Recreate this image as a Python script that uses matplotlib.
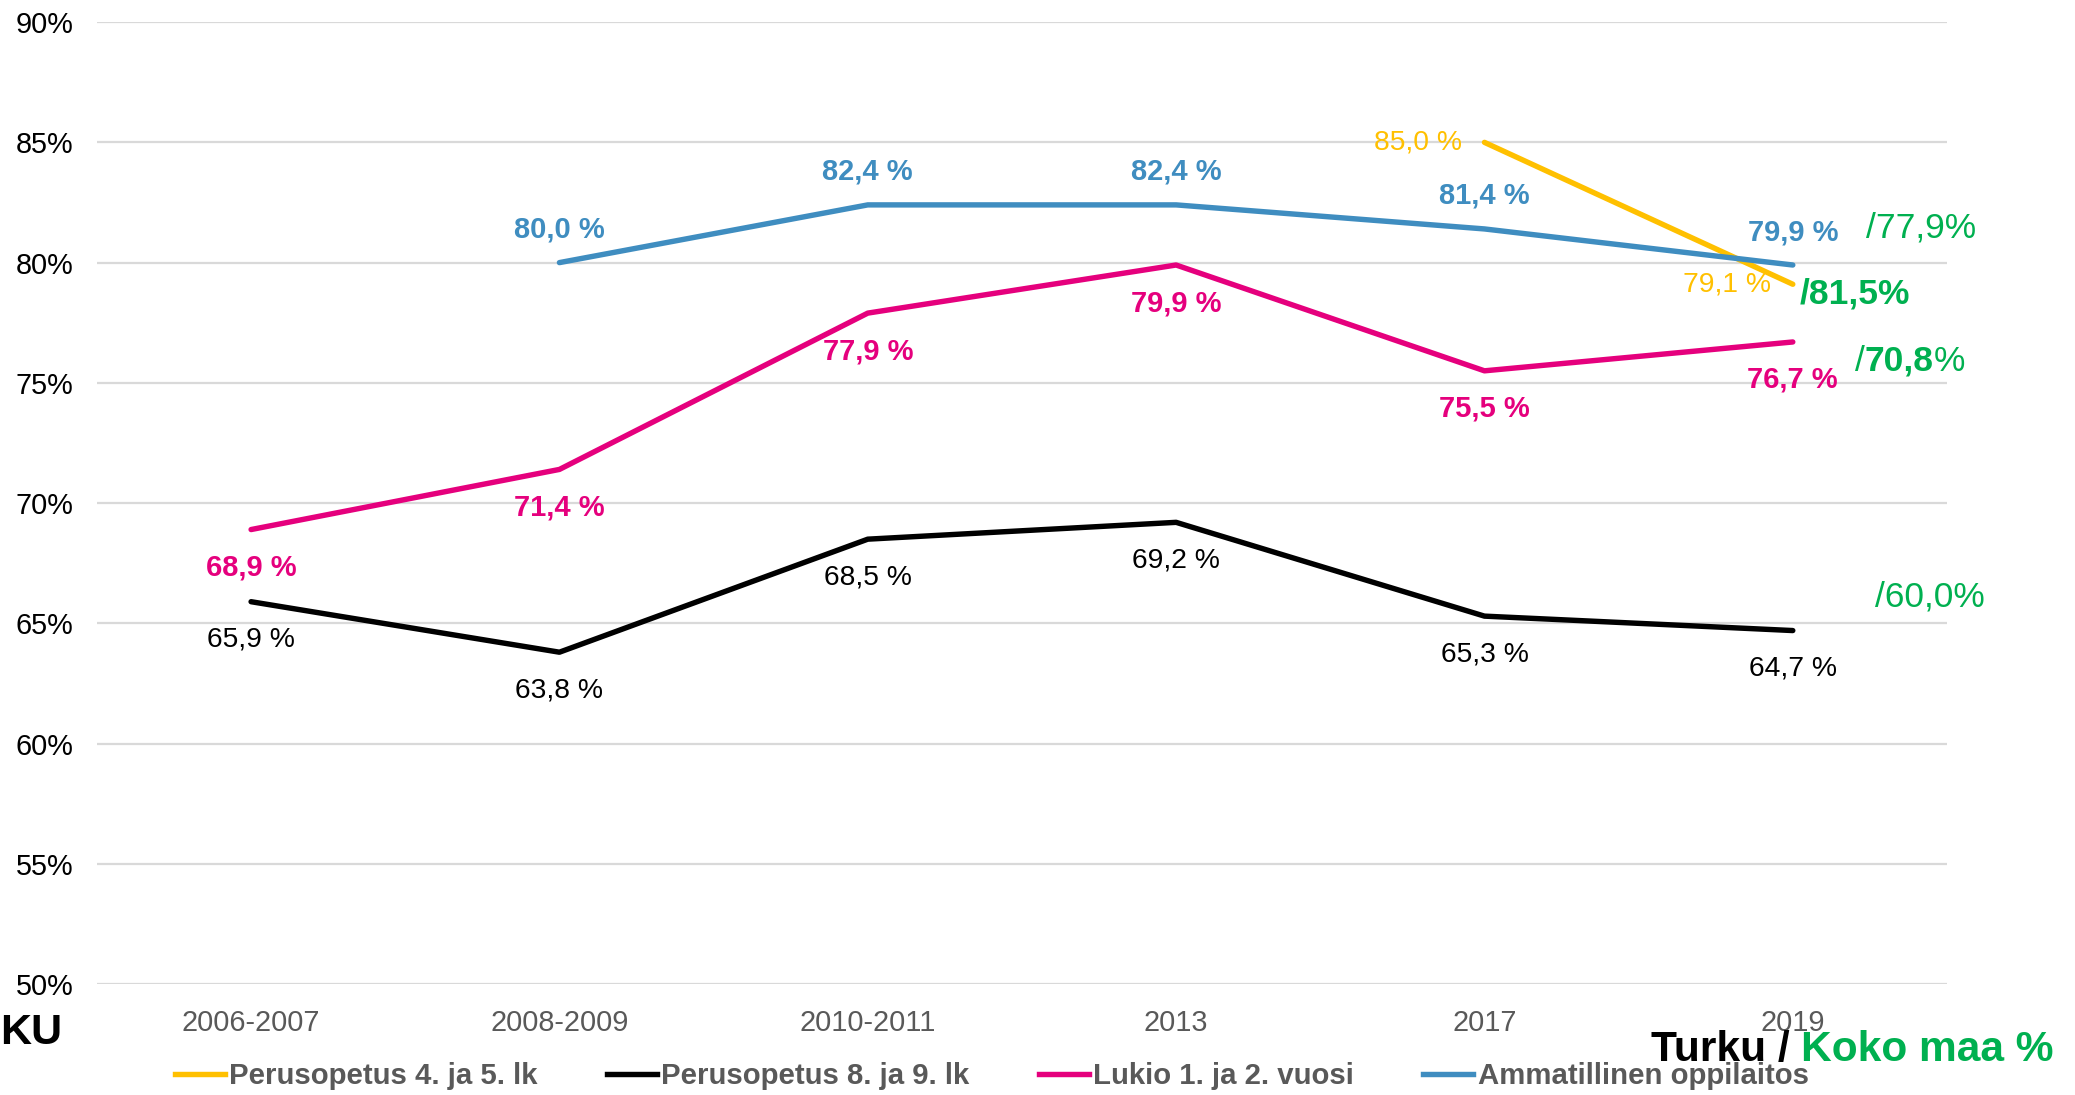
import numpy as np
import matplotlib
matplotlib.use("Agg")
import matplotlib.pyplot as plt
from matplotlib.lines import Line2D

plt.rcParams['font.family'] = ['Liberation Sans', 'DejaVu Sans']

# Data
years = ["2006-2007", "2008-2009", "2010-2011", "2013", "2017", "2019"]
perus_4_5 = [np.nan, np.nan, np.nan, np.nan, 85.0, 79.1]
perus_8_9 = [65.9, 63.8, 68.5, 69.2, 65.3, 64.7]
lukio = [68.9, 71.4, 77.9, 79.9, 75.5, 76.7]
ammatillinen = [np.nan, 80.0, 82.4, 82.4, 81.4, 79.9]
series_names = ["Perusopetus 4. ja 5. lk", "Perusopetus 8. ja 9. lk",
                "Lukio 1. ja 2. vuosi", "Ammatillinen oppilaitos"]
koko_maa = ["77,9", "81,5", "70,8", "60,0"]
y_ticks = [50, 55, 60, 65, 70, 75, 80, 85, 90]

YELLOW = "#FFC000"
BLACK = "#000000"
PINK = "#E5007D"
BLUE = "#3F8DC0"
GREEN = "#00B050"
GRAY = "#595959"


def fmt(v):
    return f"{v:.1f}".replace(".", ",") + " %"


fig = plt.figure(figsize=(20.75, 10.95), dpi=100)
ax = fig.add_axes([0.0467, 0.1013, 0.8916, 0.8785])

x = np.arange(len(years))
lw = 3.9
ax.plot(x, perus_4_5, color=YELLOW, lw=lw, solid_capstyle='round')
ax.plot(x, perus_8_9, color=BLACK, lw=lw, solid_capstyle='round')
ax.plot(x, lukio, color=PINK, lw=lw, solid_capstyle='round')
ax.plot(x, ammatillinen, color=BLUE, lw=lw, solid_capstyle='round')

ax.set_xlim(-0.5, 5.5)
ax.set_ylim(50, 90)
ax.set_yticks(y_ticks)
ax.set_yticklabels([f"{t}%" for t in y_ticks])
ax.set_xticks(x)
ax.set_xticklabels(years, color=GRAY)
ax.tick_params(axis='both', length=0, labelsize=20.8)
ax.tick_params(axis='y', pad=17)
ax.tick_params(axis='x', pad=18)
ax.grid(axis='y', color="#D9D9D9", lw=1.6)
ax.set_axisbelow(True)
for s in ax.spines.values():
    s.set_visible(False)

# data labels
for xi, v in zip(x, perus_8_9):
    ax.annotate(fmt(v), (xi, v), xytext=(0, -38), textcoords='offset pixels',
                ha='center', va='center', fontsize=20.3, color=BLACK)
for xi, v in zip(x, lukio):
    ax.annotate(fmt(v), (xi, v), xytext=(0, -38), textcoords='offset pixels',
                ha='center', va='center', fontsize=21, color=PINK, fontweight='bold')
for xi, v in zip(x, ammatillinen):
    if not np.isnan(v):
        ax.annotate(fmt(v), (xi, v), xytext=(0, 33), textcoords='offset pixels',
                    ha='center', va='center', fontsize=21, color=BLUE, fontweight='bold')
for xi, v in zip(x, perus_4_5):
    if not np.isnan(v):
        ax.annotate(fmt(v), (xi, v), xytext=(-22, 0), textcoords='offset pixels',
                    ha='right', va='center', fontsize=20.3, color=YELLOW)

# national averages (Koko maa)
ax.text(5.237, 81.44, "/" + koko_maa[0] + "%", color=GREEN, fontsize=25.5,
        ha='left', va='center', clip_on=False)
ax.text(5.023, 78.70, "/" + koko_maa[1] + "%", color=GREEN, fontsize=25.5,
        fontweight='bold', ha='left', va='center', clip_on=False)
t1 = ax.text(5.202, 75.90, "/", color=GREEN, fontsize=25.5,
             ha='left', va='center', clip_on=False)
t2 = ax.annotate(koko_maa[2], xy=(1, 0), xycoords=t1, color=GREEN, fontsize=25.5,
                 fontweight='bold', ha='left', va='bottom', annotation_clip=False)
ax.annotate("%", xy=(1, 0), xycoords=t2, color=GREEN, fontsize=25.5,
            ha='left', va='bottom', annotation_clip=False)
ax.text(5.267, 66.11, "/" + koko_maa[3] + "%", color=GREEN, fontsize=25.5,
        ha='left', va='center', clip_on=False)

# legend
handles = [Line2D([], [], color=c, lw=lw) for c in (YELLOW, BLACK, PINK, BLUE)]
leg = fig.legend(handles, series_names, loc='center', bbox_to_anchor=(0.478, 0.017),
                 ncol=4, frameon=False, fontsize=21.2, handlelength=1.7,
                 handletextpad=0.15, columnspacing=2.35)
for t in leg.get_texts():
    t.set_color(GRAY)
    t.set_fontweight('bold')

# corner texts
fig.text(0.0, 0.0565, "KU", fontsize=31, fontweight='bold', color=BLACK,
         ha='left', va='center')
tk = fig.text(0.7955, 0.041, "Turku / ", fontsize=30.6, fontweight='bold', color=BLACK,
              ha='left', va='center')
plt.annotate("Koko maa %", xy=(1, 0), xycoords=tk, fontsize=30.6, fontweight='bold',
             color=GREEN, ha='left', va='bottom', annotation_clip=False)

fig.savefig("out.png", dpi=100)
